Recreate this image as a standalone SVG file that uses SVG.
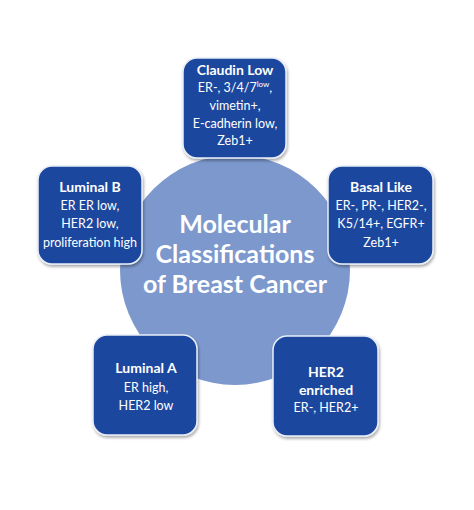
<svg xmlns="http://www.w3.org/2000/svg" width="474" height="510" viewBox="0 0 474 510">
<defs>
<filter id="sh" x="-10%" y="-10%" width="125%" height="125%">
<feGaussianBlur in="SourceAlpha" stdDeviation="1.5"/>
<feOffset dx="1" dy="2" result="o"/>
<feComponentTransfer><feFuncA type="linear" slope="0.35"/></feComponentTransfer>
<feMerge><feMergeNode/><feMergeNode in="SourceGraphic"/></feMerge>
</filter>
</defs>
<style>
.box{fill:#1E469E;stroke:#E8EEF8;stroke-width:1.5;filter:url(#sh)}
.t{font-family:Lato,"Open Sans","Liberation Sans",sans-serif;fill:#FFFFFF;text-anchor:middle}
.h{font-size:14px;font-weight:bold}
.b{font-size:12.5px}
.title{font-size:25px;font-weight:bold}
</style>
<rect width="474" height="510" fill="#FFFFFF"/>
<g id="center">
<circle cx="235" cy="270" r="115" fill="#7C98CD"/>
<text class="t title" x="235" y="233">Molecular</text>
<text class="t title" x="235" y="263">Classifications</text>
<text class="t title" x="235" y="293">of Breast Cancer</text>
</g>
<g id="connectors"></g>
<g id="claudin-low">
<rect class="box" x="183" y="58" width="103" height="100" rx="14"/>
<text class="t h" x="235" y="75">Claudin Low</text>
<text class="t b" x="235" y="92">ER-, 3/4/7<tspan font-size="8" dy="-5">low</tspan><tspan dy="5">,</tspan></text>
<text class="t b" x="235" y="110">vimetin+,</text>
<text class="t b" x="235" y="128">E-cadherin low,</text>
<text class="t b" x="235" y="145">Zeb1+</text>
</g>
<g id="luminal-b">
<rect class="box" x="38" y="166" width="104" height="98" rx="14"/>
<text class="t h" x="90" y="192">Luminal B</text>
<text class="t b" x="90" y="210">ER ER low,</text>
<text class="t b" x="90" y="228">HER2 low,</text>
<text class="t b" x="90" y="247">proliferation high</text>
</g>
<g id="basal-like">
<rect class="box" x="328" y="166" width="105" height="98" rx="14"/>
<text class="t h" x="381" y="192">Basal Like</text>
<text class="t b" x="381" y="210">ER-, PR-, HER2-,</text>
<text class="t b" x="381" y="228">K5/14+, EGFR+</text>
<text class="t b" x="381" y="247">Zeb1+</text>
</g>
<g id="luminal-a">
<rect class="box" x="93" y="335" width="104" height="100" rx="14"/>
<text class="t h" x="146" y="373">Luminal A</text>
<text class="t b" x="146" y="392">ER high,</text>
<text class="t b" x="146" y="410">HER2 low</text>
</g>
<g id="her2-enriched">
<rect class="box" x="273" y="336" width="105" height="100" rx="14"/>
<text class="t h" x="326" y="377">HER2</text>
<text class="t h" x="326" y="395">enriched</text>
<text class="t b" x="326" y="412">ER-, HER2+</text>
</g>
</svg>
